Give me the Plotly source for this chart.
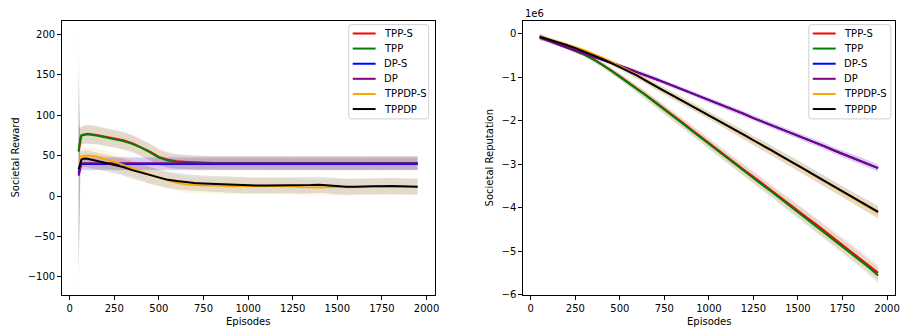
import plotly.graph_objects as go

W, H = 907, 334
FONT = "DejaVu Sans"

# ---------------- data ----------------
series_names = ["TPP-S", "TPP", "DP-S", "DP", "TPPDP-S", "TPPDP"]
series_colors = ["#ff0000", "#008000", "#0000ff", "#800080", "#ffa500", "#000000"]

# Left panel: Societal Reward
episodes_left = [50, 60, 66, 74, 86] + list(range(100, 2000, 50))

reward_tpp_s = [55, 72, 75, 76, 76.5,
                77, 75.5, 73.5, 71.5, 69, 65.5, 60.5, 55, 48.5, 45,
                43, 42, 41.5, 41, 41, 40.5, 41, 40.5, 40.5, 41,
                40.5, 41, 40.5, 40.5, 41, 40.5, 40.5, 41, 40.5, 41,
                40.5, 40.5, 41, 40.5, 41, 40.5, 41, 40.5]
reward_tpp = [56, 72.5, 75, 75.5, 76,
              76.5, 75, 72.5, 70.5, 68, 64.5, 60, 54, 47.5, 44,
              42.5, 42, 41.5, 41.5, 41, 41, 41, 41, 41, 41,
              41, 41, 41, 41, 41, 41, 41, 41, 41, 41,
              41, 41, 41, 41, 41, 41, 41, 41]
reward_dp_s = [28, 38, 39.5, 39.5, 39.5,
               39.5, 39.5, 40, 39.5, 39.5, 40, 39.5, 39.5, 40, 39.5,
               39.5, 40, 39.5, 39.5, 40, 39.5, 39.5, 40, 39.5, 39.5,
               40, 39.5, 39.5, 40, 39.5, 39.5, 40, 39.5, 39.5, 40,
               39.5, 39.5, 40, 39.5, 39.5, 40, 39.5, 39.5]
reward_dp = [25, 37, 40.5, 40.5, 40.5,
             40.5, 40.5, 40.5, 41, 40.5, 40.5, 40.5, 41, 40.5, 40.5,
             40.5, 41, 40.5, 40.5, 40.5, 41, 40.5, 40.5, 40.5, 41,
             40.5, 40.5, 41, 40.5, 40.5, 40.5, 41, 40.5, 40.5, 40.5,
             41, 40.5, 40.5, 40.5, 41, 40.5, 40.5, 40.5]
reward_tppdp_s = [44, 47, 48.5, 49.5, 50,
                  50, 49, 46, 42.5, 38.5, 34.5, 30.5, 26, 22.5, 19.5,
                  16.5, 14.5, 13.5, 13, 13, 12.5, 12.5, 12.5, 12.5, 12.5,
                  12.5, 12.5, 12.5, 12, 11, 10.5, 10.5, 11, 11.5, 11,
                  11, 11.5, 12, 12, 12, 11.5, 11.5, 11.5]
reward_tppdp = [33, 42, 45, 46, 46.5,
                46, 43.5, 41.5, 39, 36, 32, 29, 25.5, 22.5, 20,
                18.5, 17, 16, 15.5, 15, 14.5, 14, 13.5, 13.5, 13,
                13, 13, 13, 13.5, 13, 13.5, 14, 13, 12, 11.5,
                11.5, 12, 12, 12, 12.5, 12, 11.5, 11.5]

reward_std_tpp_s = [32, 12, 11.5, 11.5, 11.5,
                    11.5, 11.5, 11, 11, 11, 10.5, 10.5, 10, 10, 9.5,
                    9, 9, 9, 8.5, 8.5, 8.5, 8.5, 8.5, 8.5, 8.5,
                    8.5, 8.5, 8.5, 8.5, 8.5, 8.5, 8.5, 8.5, 8.5, 8.5,
                    8.5, 8.5, 8.5, 8.5, 8.5, 8.5, 8.5, 8.5]
reward_std_tpp = [30, 12, 11, 11, 11,
                  11, 11, 11, 10.5, 10.5, 10.5, 10, 10, 9.5, 9,
                  9, 8.5, 8.5, 8.5, 8.5, 8.5, 8.5, 8.5, 8.5, 8.5,
                  8.5, 8.5, 8.5, 8.5, 8.5, 8.5, 8.5, 8.5, 8.5, 8.5,
                  8.5, 8.5, 8.5, 8.5, 8.5, 8.5, 8.5, 8.5]
reward_std_dp_s = [100, 8, 7.5, 7.5, 7.5,
                   7.5, 7.5, 7.5, 7.5, 7.5, 7.5, 7.5, 7.5, 7.5, 7.5,
                   7.5, 7.5, 7.5, 7.5, 7.5, 7.5, 7.5, 7.5, 7.5, 7.5,
                   7.5, 7.5, 7.5, 7.5, 7.5, 7.5, 7.5, 7.5, 7.5, 7.5,
                   7.5, 7.5, 7.5, 7.5, 7.5, 7.5, 7.5, 7.5]
reward_std_dp = [125, 8.5, 8, 8, 8,
                 8, 8, 8, 8, 8, 8, 8, 8, 8, 8,
                 8, 8, 8, 8, 8, 8, 8, 8, 8, 8,
                 8, 8, 8, 8, 8, 8, 8, 8, 8, 8,
                 8, 8, 8, 8, 8, 8, 8, 8]
reward_std_tppdp_s = [158, 11, 10.5, 10.5, 10.5,
                      10.5, 10.5, 10.5, 10.5, 10.5, 10.5, 10.5, 10.5, 10, 10,
                      10, 10, 10, 10, 10, 10, 10, 10, 10, 10,
                      10, 10, 10, 10, 10, 10, 10, 10, 10, 10,
                      10, 10, 10, 10, 10, 10, 10, 10]
reward_std_tppdp = [140, 11, 10.5, 10.5, 10.5,
                    10.5, 10.5, 10.5, 10.5, 10.5, 10.5, 10.5, 10.5, 10, 10,
                    10, 10, 10, 10, 10, 10, 10, 10, 10, 10,
                    10, 10, 10, 10, 10, 10, 10, 10, 10, 10,
                    10, 10, 10, 10, 10, 10, 10, 10]

# Right panel: Societal Reputation (units of 1e6)
episodes_right = list(range(50, 2000, 50))

rep_tpp_s = [-0.08, -0.15, -0.23, -0.31, -0.39, -0.48, -0.58, -0.70, -0.84, -0.98,
             -1.12, -1.27, -1.42, -1.57, -1.72, -1.88, -2.04, -2.20, -2.36, -2.52,
             -2.67, -2.83, -2.98, -3.14, -3.29, -3.45, -3.60, -3.76, -3.91, -4.07,
             -4.23, -4.38, -4.54, -4.70, -4.85, -5.01, -5.17, -5.33, -5.50]
rep_tpp = [-0.08, -0.15, -0.23, -0.31, -0.39, -0.48, -0.59, -0.71, -0.85, -0.99,
           -1.13, -1.28, -1.43, -1.59, -1.74, -1.90, -2.06, -2.22, -2.38, -2.54,
           -2.69, -2.85, -3.01, -3.16, -3.32, -3.48, -3.63, -3.79, -3.95, -4.10,
           -4.26, -4.42, -4.57, -4.73, -4.89, -5.05, -5.21, -5.38, -5.56]
rep_dp_s = [-0.08, -0.16, -0.23, -0.31, -0.38, -0.45, -0.52, -0.59, -0.66, -0.74,
            -0.81, -0.89, -0.96, -1.04, -1.12, -1.20, -1.28, -1.36, -1.44, -1.52,
            -1.61, -1.69, -1.77, -1.85, -1.94, -2.02, -2.10, -2.18, -2.26, -2.35,
            -2.43, -2.51, -2.59, -2.68, -2.76, -2.84, -2.92, -3.00, -3.09]
rep_dp = [-0.08, -0.16, -0.23, -0.31, -0.38, -0.45, -0.52, -0.59, -0.66, -0.74,
          -0.81, -0.89, -0.96, -1.04, -1.12, -1.20, -1.28, -1.36, -1.44, -1.52,
          -1.61, -1.69, -1.77, -1.85, -1.94, -2.02, -2.10, -2.18, -2.26, -2.35,
          -2.43, -2.51, -2.59, -2.68, -2.76, -2.84, -2.92, -3.00, -3.09]
rep_tppdp_s = [-0.06, -0.12, -0.18, -0.24, -0.31, -0.38, -0.46, -0.55, -0.64, -0.74,
               -0.85, -0.96, -1.08, -1.20, -1.32, -1.43, -1.54, -1.65, -1.76, -1.88,
               -1.99, -2.11, -2.22, -2.34, -2.46, -2.57, -2.69, -2.81, -2.92, -3.04,
               -3.16, -3.28, -3.40, -3.52, -3.64, -3.76, -3.88, -4.00, -4.12]
rep_tppdp = [-0.07, -0.13, -0.19, -0.26, -0.33, -0.41, -0.49, -0.58, -0.67, -0.77,
             -0.87, -0.97, -1.09, -1.21, -1.32, -1.43, -1.54, -1.65, -1.76, -1.87,
             -1.98, -2.10, -2.21, -2.33, -2.45, -2.56, -2.68, -2.80, -2.91, -3.03,
             -3.15, -3.27, -3.39, -3.51, -3.63, -3.75, -3.87, -3.98, -4.10]

rep_std_tpp = [0.07, 0.05, 0.05, 0.05, 0.05, 0.05, 0.06, 0.06, 0.07, 0.07,
               0.08, 0.08, 0.09, 0.09, 0.10, 0.10, 0.10, 0.11, 0.11, 0.11,
               0.12, 0.12, 0.12, 0.13, 0.13, 0.13, 0.14, 0.14, 0.14, 0.15,
               0.15, 0.15, 0.16, 0.16, 0.16, 0.17, 0.17, 0.17, 0.18]
rep_std_dp = [0.06, 0.04, 0.04, 0.04, 0.04, 0.04, 0.04, 0.04, 0.04, 0.04,
              0.04, 0.05, 0.05, 0.05, 0.05, 0.05, 0.05, 0.05, 0.05, 0.06,
              0.06, 0.06, 0.06, 0.06, 0.06, 0.06, 0.06, 0.07, 0.07, 0.07,
              0.07, 0.07, 0.07, 0.07, 0.08, 0.08, 0.08, 0.08, 0.08]
rep_std_tppdp = [0.07, 0.05, 0.05, 0.05, 0.05, 0.05, 0.05, 0.06, 0.06, 0.06,
                 0.07, 0.07, 0.07, 0.08, 0.08, 0.08, 0.08, 0.09, 0.09, 0.09,
                 0.09, 0.10, 0.10, 0.10, 0.10, 0.11, 0.11, 0.11, 0.11, 0.12,
                 0.12, 0.12, 0.12, 0.13, 0.13, 0.13, 0.13, 0.14, 0.14]

x_ticks = [0, 250, 500, 750, 1000, 1250, 1500, 1750, 2000]
reward_ticks = [-100, -50, 0, 50, 100, 150, 200]
rep_ticks = [-6, -5, -4, -3, -2, -1, 0]

left_means = [reward_tpp_s, reward_tpp, reward_dp_s, reward_dp, reward_tppdp_s, reward_tppdp]
left_stds = [reward_std_tpp_s, reward_std_tpp, reward_std_dp_s, reward_std_dp,
             reward_std_tppdp_s, reward_std_tppdp]
right_means = [rep_tpp_s, rep_tpp, rep_dp_s, rep_dp, rep_tppdp_s, rep_tppdp]
right_stds = [rep_std_tpp, rep_std_tpp, rep_std_dp, rep_std_dp, rep_std_tppdp, rep_std_tppdp]

for arr in left_means + left_stds:
    assert len(arr) == len(episodes_left), len(arr)
for arr in right_means + right_stds:
    assert len(arr) == len(episodes_right), len(arr)


def rgba(hexc, a):
    h = hexc.lstrip("#")
    r, g, b = int(h[0:2], 16), int(h[2:4], 16), int(h[4:6], 16)
    return f"rgba({r},{g},{b},{a})"


fig = go.Figure()


def add_panel(xs, means, stds, xa, ya):
    # bands first (below all lines)
    for m, s, c in zip(means, stds, series_colors):
        up = [a + b for a, b in zip(m, s)]
        lo = [a - b for a, b in zip(m, s)]
        fig.add_trace(go.Scatter(
            x=xs + xs[::-1], y=up + lo[::-1], fill="toself",
            fillcolor=rgba(c, 0.11), line=dict(width=0), mode="lines",
            hoverinfo="skip", showlegend=False, xaxis=xa, yaxis=ya))
    for m, c, n in zip(means, series_colors, series_names):
        fig.add_trace(go.Scatter(
            x=xs, y=m, mode="lines", name=n, line=dict(color=c, width=2),
            showlegend=False, xaxis=xa, yaxis=ya))


add_panel(episodes_left, left_means, left_stds, "x", "y")
add_panel(episodes_right, right_means, right_stds, "x2", "y2")

# ---------------- layout ----------------
def px(x):
    return x / W


def py(y):
    return 1 - y / H


top, bot = 21, 299.5
axis_common = dict(
    showgrid=False, zeroline=False, showline=True, mirror=True,
    linecolor="black", linewidth=1, ticks="outside", ticklen=3.5,
    tickwidth=0.8, tickcolor="black",
    tickfont=dict(family=FONT, size=10, color="black"),
)

fig.update_layout(
    width=W, height=H, margin=dict(l=0, r=0, t=0, b=0),
    paper_bgcolor="white", plot_bgcolor="white",
    font=dict(family=FONT, size=10, color="black"),
    xaxis=dict(domain=[px(62), px(437)], range=[-45, 2045], tickvals=x_ticks,
               anchor="y", **axis_common),
    yaxis=dict(domain=[py(bot), py(top)], range=[-122.6, 217.1],
               tickvals=reward_ticks, anchor="x", **axis_common),
    xaxis2=dict(domain=[px(525.7), px(900)], range=[-45, 2045], tickvals=x_ticks,
                anchor="y2", **axis_common),
    yaxis2=dict(domain=[py(bot), py(top)], range=[-6.01, 0.30],
                tickvals=rep_ticks, anchor="x2", **axis_common),
)

annotations = [
    dict(text="Episodes", x=px(249.5), y=py(326), xanchor="center", yanchor="middle"),
    dict(text="Episodes", x=px(713), y=py(326), xanchor="center", yanchor="middle"),
    dict(text="Societal Reward", x=px(16), y=py(160), textangle=-90,
         xanchor="center", yanchor="middle"),
    dict(text="Societal Reputation", x=px(492.5), y=py(160), textangle=-90,
         xanchor="center", yanchor="middle"),
    dict(text="1e6", x=px(525.5), y=py(14), xanchor="left", yanchor="middle"),
]

shapes = []
row_y = [34, 49.3, 64.7, 80, 95.4, 110.7]


def add_legend(box_l, box_r, box_t=25, box_b=120.7):
    r = 2.5
    path = (f"M {px(box_l + r)},{py(box_t)} L {px(box_r - r)},{py(box_t)} "
            f"Q {px(box_r)},{py(box_t)} {px(box_r)},{py(box_t + r)} "
            f"L {px(box_r)},{py(box_b - r)} Q {px(box_r)},{py(box_b)} {px(box_r - r)},{py(box_b)} "
            f"L {px(box_l + r)},{py(box_b)} Q {px(box_l)},{py(box_b)} {px(box_l)},{py(box_b - r)} "
            f"L {px(box_l)},{py(box_t + r)} Q {px(box_l)},{py(box_t)} {px(box_l + r)},{py(box_t)} Z")
    shapes.append(dict(type="path", path=path, xref="paper", yref="paper",
                       line=dict(color="#d0d0d0", width=1),
                       fillcolor="rgba(255,255,255,0.8)", layer="above"))
    for yy, c, n in zip(row_y, series_colors, series_names):
        shapes.append(dict(type="line", xref="paper", yref="paper",
                           x0=px(box_l + 4), x1=px(box_l + 27), y0=py(yy), y1=py(yy),
                           line=dict(color=c, width=2), layer="above"))
        annotations.append(dict(text=n, x=px(box_l + 33), y=py(yy),
                                xanchor="left", yanchor="middle"))


add_legend(350.7, 431)
add_legend(813.3, 895.7)

for a in annotations:
    a.update(xref="paper", yref="paper", showarrow=False,
             font=dict(family=FONT, size=10, color="black"))

fig.update_layout(annotations=annotations, shapes=shapes)

fig.write_html("out.html")
